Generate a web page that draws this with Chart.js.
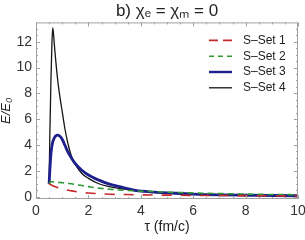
<!DOCTYPE html>
<html>
<head>
<meta charset="utf-8">
<script src="https://cdn.jsdelivr.net/npm/chart.js@4"></script>
<style>
  html, body { margin: 0; padding: 0; background: #fff; }
  #wrap { width: 305px; height: 240px; }
</style>
</head>
<body>
<div id="wrap"><canvas id="plot" width="305" height="240"></canvas></div>
<script>
const tau  = [0.5, 0.53, 0.57, 0.61, 0.64, 0.7, 0.76, 0.83, 0.9, 1.0, 1.1, 1.22, 1.35, 1.5, 1.75, 2.0, 2.4, 2.8, 3.3, 3.8, 4.5, 5, 6, 7, 8, 9, 10];
const set1 = [1.0, 0.96, 0.92, 0.88, 0.85, 0.8, 0.75, 0.7, 0.66, 0.6, 0.55, 0.5, 0.45, 0.4, 0.33, 0.28, 0.23, 0.19, 0.17, 0.15, 0.13, 0.12, 0.1, 0.09, 0.08, 0.07, 0.06];
const set2 = [1.0, 1.1, 1.15, 1.16, 1.15, 1.13, 1.12, 1.11, 1.1, 1.08, 1.06, 1.03, 1.0, 0.95, 0.86, 0.78, 0.66, 0.57, 0.5, 0.45, 0.39, 0.35, 0.29, 0.24, 0.2, 0.17, 0.15];
const set3 = [1.0, 2.1, 3.3, 3.95, 4.25, 4.55, 4.72, 4.77, 4.7, 4.45, 4.0, 3.45, 3.0, 2.56, 2.05, 1.68, 1.28, 0.97, 0.72, 0.48, 0.35, 0.3, 0.2, 0.14, 0.11, 0.09, 0.07];
const set4 = [1.0, 5.0, 9.0, 12.0, 13.1, 11.8, 10.4, 9.0, 7.9, 6.6, 5.3, 4.1, 3.15, 2.5, 1.8, 1.42, 1.0, 0.78, 0.6, 0.46, 0.34, 0.28, 0.2, 0.14, 0.11, 0.08, 0.06];
const seriesNames = ['S\u2013Set 1', 'S\u2013Set 2', 'S\u2013Set 3', 'S\u2013Set 4'];
const xTicks = [0, 2, 4, 6, 8, 10];
const yTicks = [0, 2, 4, 6, 8, 10, 12];

const FONT = "'Liberation Sans', Arial, sans-serif";

function toPoints(ys) {
  return tau.map((t, i) => ({ x: t, y: ys[i] }));
}

// frame on all four sides with inward major/minor ticks
const frameTicks = {
  id: 'frameTicks',
  afterDraw(chart) {
    const { ctx, chartArea: a, scales } = chart;
    ctx.save();
    ctx.strokeStyle = '#a0a0a0';
    ctx.lineWidth = 1;
    ctx.strokeRect(a.left + 0.5, a.top + 0.5, a.right - a.left - 1, a.bottom - a.top - 1);
    ctx.beginPath();
    for (let v = 0; v <= 10.001; v += 0.5) {
      const px = Math.round(scales.x.getPixelForValue(v)) + 0.5;
      const len = v % 2 === 0 ? 4 : 2;
      ctx.moveTo(px, a.bottom); ctx.lineTo(px, a.bottom - len);
      ctx.moveTo(px, a.top); ctx.lineTo(px, a.top + len);
    }
    for (let v = 0; v <= 13.001; v += 0.5) {
      const py = Math.round(scales.y.getPixelForValue(v)) + 0.5;
      const len = v % 2 === 0 ? 4 : 2;
      ctx.moveTo(a.left, py); ctx.lineTo(a.left + len, py);
      ctx.moveTo(a.right, py); ctx.lineTo(a.right - len, py);
    }
    ctx.stroke();
    ctx.restore();
  }
};

// legend in the upper right of the plot
const legendDash = [[9, 5], [5, 4], [], []];
const insideLegend = {
  id: 'insideLegend',
  afterDraw(chart) {
    const { ctx, chartArea: a } = chart;
    ctx.save();
    ctx.font = '12px ' + FONT;
    ctx.textBaseline = 'middle';
    ctx.fillStyle = '#222';
    chart.data.datasets.forEach((ds, i) => {
      const y = a.top + 18 + i * 15.8;
      const x0 = a.right - 89;
      ctx.beginPath();
      ctx.strokeStyle = ds.borderColor;
      ctx.lineWidth = Math.min(ds.borderWidth, 2.4);
      ctx.setLineDash(legendDash[i]);
      ctx.moveTo(x0, y);
      ctx.lineTo(x0 + 23, y);
      ctx.stroke();
      ctx.setLineDash([]);
      ctx.fillText(ds.label, x0 + 34, y);
    });
    ctx.restore();
  }
};

new Chart(document.getElementById('plot'), {
  type: 'line',
  data: {
    datasets: [
      { label: seriesNames[0], data: toPoints(set1), borderColor: '#c62a2c', borderWidth: 1.6, borderDash: [10, 9] },
      { label: seriesNames[1], data: toPoints(set2), borderColor: '#2e9a34', borderWidth: 1.6, borderDash: [6, 4] },
      { label: seriesNames[2], data: toPoints(set3), borderColor: '#1c1f8c', borderWidth: 2.8 },
      { label: seriesNames[3], data: toPoints(set4), borderColor: '#151515', borderWidth: 1.3 }
    ]
  },
  options: {
    responsive: false,
    animation: false,
    devicePixelRatio: 1,
    layout: { padding: { left: 0, right: 7, top: 0, bottom: 0 } },
    elements: {
      point: { radius: 0 },
      line: { cubicInterpolationMode: 'monotone', fill: false }
    },
    plugins: {
      legend: { display: false },
      tooltip: { enabled: false },
      title: {
        display: true,
        text: 'b) \u03c7\u2091 = \u03c7\u2098 = 0',
        fullSize: false,
        color: '#222',
        font: { family: FONT, size: 17, weight: 'normal', lineHeight: 1.2 },
        padding: { top: 1, bottom: 1 }
      }
    },
    scales: {
      x: {
        type: 'linear',
        min: 0,
        max: 10,
        grid: { display: false, drawTicks: false },
        border: { display: false },
        afterBuildTicks: s => { s.ticks = xTicks.map(v => ({ value: v })); },
        afterFit: s => { s.height = 41; s.paddingLeft = 0; s.paddingRight = 0; },
        ticks: { color: '#333', padding: 4, maxRotation: 0, font: { family: FONT, size: 14 } },
        title: {
          display: true,
          text: '\u03c4 (fm/c)',
          color: '#222',
          font: { family: FONT, size: 14 },
          padding: { top: 0, bottom: 4 }
        }
      },
      y: {
        type: 'linear',
        min: -0.18,
        max: 13.5,
        grid: { display: false, drawTicks: false },
        border: { display: false },
        afterBuildTicks: s => { s.ticks = yTicks.map(v => ({ value: v })); },
        afterFit: s => { s.width = 36; s.paddingTop = 0; s.paddingBottom = 0; },
        ticks: { color: '#333', padding: 4, font: { family: FONT, size: 14 } },
        title: {
          display: true,
          text: 'E/E\u2080',
          color: '#222',
          font: { family: FONT, size: 13, style: 'italic', lineHeight: 1 },
          padding: 0
        }
      }
    }
  },
  plugins: [frameTicks, insideLegend]
});
</script>
</body>
</html>
